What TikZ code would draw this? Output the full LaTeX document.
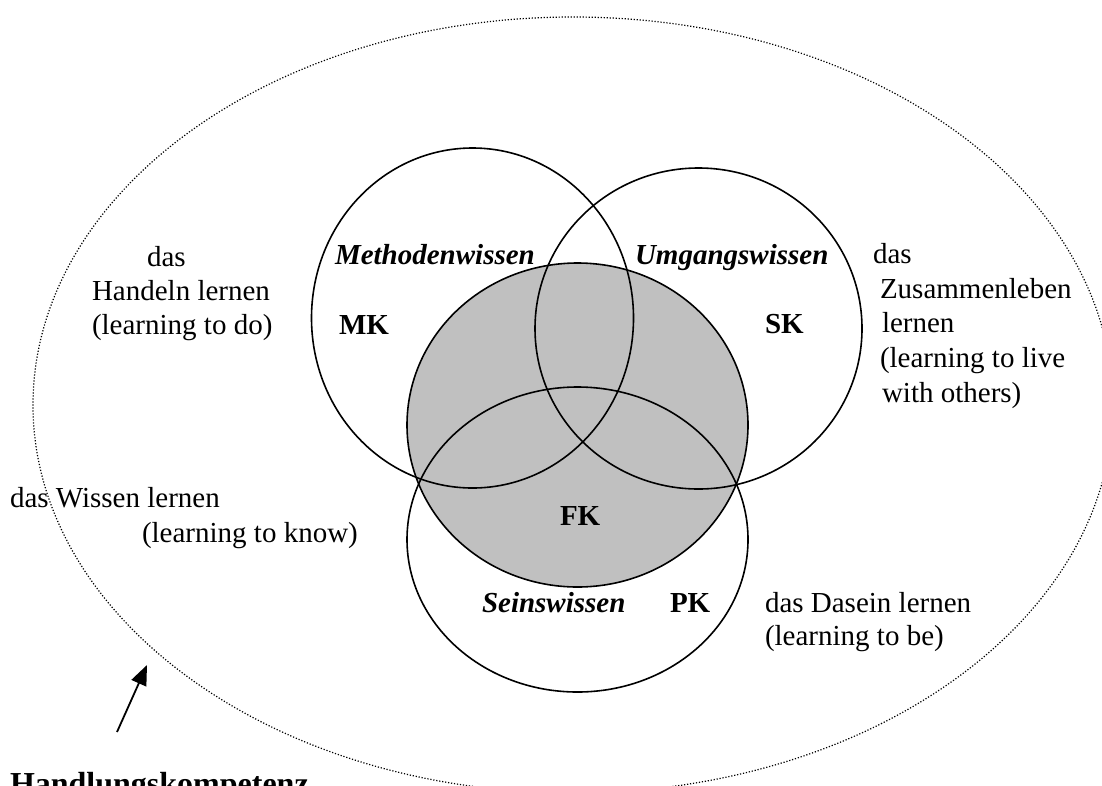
\documentclass[tikz,border=0pt]{standalone}
\usepackage{fontspec}
\setmainfont{Liberation Serif}
\usetikzlibrary{shapes.geometric,arrows.meta}
\tikzset{
  venn/.style={ellipse, draw=black, line width=1.6pt, inner sep=0pt, outer sep=0pt},
  outerell/.style={ellipse, draw=black, line width=1.2pt, dash pattern=on 1.2pt off 1.8pt, inner sep=0pt},
  txt/.style={anchor=base west, inner sep=0pt, outer sep=0pt, font=\fontsize{29}{34}\selectfont},
  btxt/.style={txt, font=\fontsize{29}{34}\selectfont\bfseries},
  itxt/.style={txt, font=\fontsize{29}{34}\selectfont\bfseries\itshape},
  bigtxt/.style={txt, font=\fontsize{32}{38}\selectfont\bfseries},
  pointer/.style={line width=1.8pt, -{Triangle[length=20pt,width=16pt]}}
}
\definecolor{vgray}{RGB}{192,192,192}
\begin{document}
\begin{tikzpicture}[x=1pt,y=-1pt]
\clip (0,0) rectangle (1102,785);
\fill[white] (0,0) rectangle (1102,785);
% outer ellipse
\node[outerell, minimum width=1080pt, minimum height=776pt] (hk) at (573,405) {};
% circles
\node[venn, fill=vgray, minimum width=341pt, minimum height=324pt] (fk) at (577.5,425) {};
\node[venn, minimum width=322pt, minimum height=340pt] (mk) at (472.5,318) {};
\node[venn, minimum width=327pt, minimum height=321pt] (sk) at (698.5,328.5) {};
\node[venn, minimum width=341pt, minimum height=305pt] (pk) at (577.5,539.5) {};
% left group
\node[txt] (l1) at (147,266) {das};
\node[txt] (l2) at (92,300) {Handeln lernen};
\node[txt] (l3) at (92,334) {(learning to do)};
% labels in circles
\node[itxt] (mw) at (335,264) {Methodenwissen};
\node[btxt] (mkl) at (339,334) {MK};
\node[itxt] (uw) at (635,264) {Umgangswissen};
\node[btxt] (skl) at (765,333) {SK};
\node[btxt] (fkl) at (560,525) {FK};
\node[itxt] (sw) at (482,612) {Seinswissen};
\node[btxt] (pkl) at (670,612) {PK};
% right group
\node[txt] (r1) at (873,263) {das};
\node[txt] (r2) at (880,298) {Zusammenleben};
\node[txt] (r3) at (882,332) {lernen};
\node[txt] (r4) at (880,367) {(learning to live};
\node[txt] (r5) at (882,402) {with others)};
% left lower
\node[txt] (w1) at (10,507) {das Wissen lernen};
\node[txt] (w2) at (142,542) {(learning to know)};
% bottom right
\node[txt] (d1) at (765,612) {das Dasein lernen};
\node[txt] (d2) at (765,645) {(learning to be)};
% Handlungskompetenz (cut off by the lower edge, as in the reference)
\node[bigtxt] (hkl) at (10,794) {Handlungskompetenz};
\coordinate (atail) at (117,732);
\coordinate (ahead) at (147,665);
\draw[pointer] (atail) -- (ahead);
\end{tikzpicture}
\end{document}
